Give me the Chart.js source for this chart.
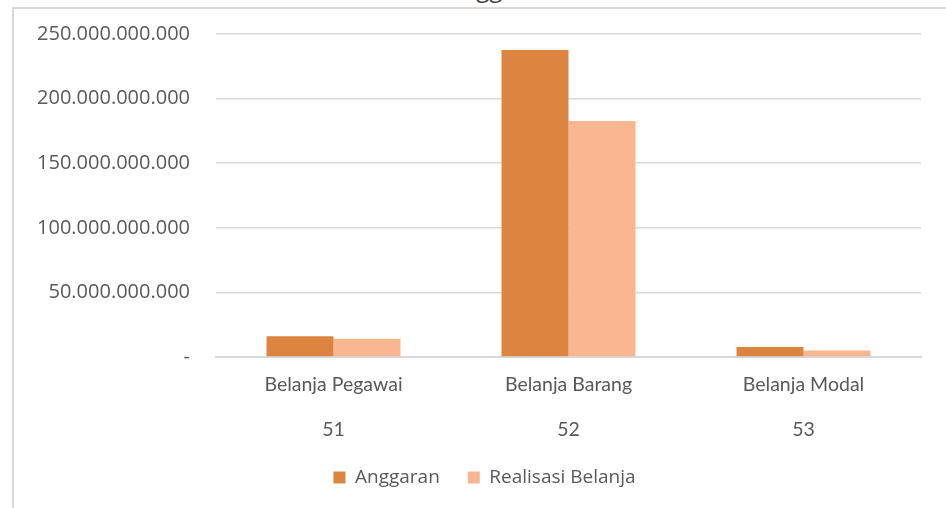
<!DOCTYPE html>
<html>
<head>
<meta charset="utf-8">
<script src="https://cdn.jsdelivr.net/npm/chart.js@4/dist/chart.umd.min.js"></script>
<style>
  html, body { margin: 0; padding: 0; background: #fff; overflow: hidden; }
  #wrap { position: relative; width: 946px; height: 508px; overflow: hidden; }
  #frame { position: absolute; left: 12px; top: 7px; width: 960px; height: 520px;
           border-left: 2px solid #d9d9d9; border-top: 2px solid #d9d9d9; box-sizing: border-box; }
  #title { position: absolute; left: 27px; width: 946px; top: -29px; text-align: center;
           font-family: "Open Sans"; font-size: 24px; color: #404040; }
  canvas { position: absolute; left: 0; top: 0; }
</style>
</head>
<body>
<div id="wrap">
  <div id="frame"></div>
  <div id="title">Anggaran</div>
  <canvas id="c" width="946" height="508"></canvas>
</div>
<script>
const categories = [["Belanja Pegawai", "51"], ["Belanja Barang", "52"], ["Belanja Modal", "53"]];
const seriesNames = ["Anggaran", "Realisasi Belanja"];
const anggaran = [16000000000, 237600000000, 7700000000];
const realisasi = [14200000000, 182700000000, 5000000000];
const yTickLabels = ["-", "50.000.000.000", "100.000.000.000", "150.000.000.000", "200.000.000.000", "250.000.000.000"];
const colors = ["#DC8541", "#F9B690"];

const layoutTweak = {
  id: 'layoutTweak',
  afterLayout(chart) {
    const lg = chart.legend;
    if (lg) { lg.left += 24; lg.right += 24; }
    const y = chart.scales.y;
    const top = 34;
    y.top = top;
    y.height = y.bottom - top;
    chart.chartArea.top = top;
    chart.chartArea.height = chart.chartArea.bottom - top;
    y.configure();
  }
};

new Chart(document.getElementById('c'), {
  type: 'bar',
  data: {
    labels: categories,
    datasets: [
      { label: seriesNames[0], data: anggaran, backgroundColor: colors[0] },
      { label: seriesNames[1], data: realisasi, backgroundColor: colors[1] }
    ]
  },
  plugins: [layoutTweak],
  options: {
    responsive: false,
    animation: false,
    layout: { padding: { left: 0, right: 25, top: 26, bottom: 11 } },
    datasets: { bar: { categoryPercentage: 0.57, barPercentage: 1.0 } },
    plugins: {
      title: { display: false },
      tooltip: { enabled: false },
      legend: {
        position: 'bottom',
        labels: {
          boxWidth: 12, boxHeight: 12, padding: 28,
          color: '#595959',
          font: { family: 'Open Sans', size: 19 }
        }
      }
    },
    scales: {
      y: {
        min: 0, max: 250000000000,
        border: { display: false },
        grid: { color: '#d9d9d9', lineWidth: 1.5, drawTicks: false },
        ticks: {
          stepSize: 50000000000,
          padding: 26,
          color: '#595959',
          font: { family: 'Open Sans', size: 20 },
          callback: (v, i) => yTickLabels[i]
        },
        afterFit: s => { s.width = 216; }
      },
      x: {
        border: { display: true, color: '#d9d9d9', width: 2 },
        grid: { display: false, drawTicks: false },
        ticks: {
          padding: 5,
          color: '#595959',
          font: { family: 'Lato', size: 19.5, lineHeight: 2.31 }
        },
        afterFit: s => { s.height = 83; }
      }
    }
  }
});
</script>
</body>
</html>
